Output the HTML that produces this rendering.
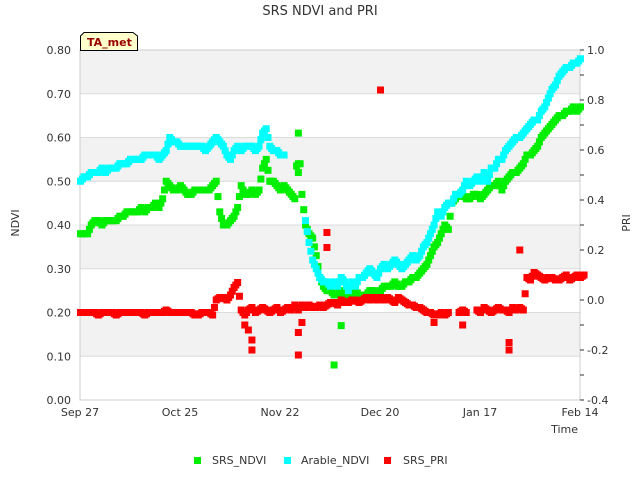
<!DOCTYPE html>
<html><head><meta charset="utf-8"><style>
body{margin:0;background:#fff;font-family:"Liberation Sans","DejaVu Sans",sans-serif}
svg text{font-family:"DejaVu Sans","Liberation Sans",sans-serif}
</style></head><body>
<svg id="c" width="640" height="480" xmlns="http://www.w3.org/2000/svg">
<rect width="640" height="480" fill="#fff"/>
<text x="320" y="15" text-anchor="middle" font-size="13" fill="#333">SRS NDVI and PRI</text>
<g id="bands"></g><g id="axes"></g><g id="marks"></g>
<text x="19" y="223" transform="rotate(-90 19 223)" text-anchor="middle" font-size="11" fill="#333">NDVI</text>
<text x="630" y="223" transform="rotate(-90 630 223)" text-anchor="middle" font-size="11" fill="#333">PRI</text>
<text x="578" y="433" text-anchor="end" font-size="11" fill="#333">Time</text>
<g><path d="M80.5,50.5 V36 L84,32.5 H133 L137.5,36 V50.5 Z" fill="#ffffcc" stroke="#000"/>
<text x="87" y="46" font-size="11" font-weight="bold" fill="#990000">TA_met</text></g>
<g>
<g><rect x="194" y="457" width="7" height="7" fill="#00ee00"/><text x="212" y="464" font-size="11" fill="#333">SRS_NDVI</text></g>
<g><rect x="284" y="457" width="7" height="7" fill="#00ffff"/><text x="301" y="464" font-size="11" fill="#333">Arable_NDVI</text></g>
<g><rect x="384" y="457" width="7" height="7" fill="#ff0000"/><text x="403" y="464" font-size="11" fill="#333">SRS_PRI</text></g>
</g>
</svg>
<script>
const xTicks=["Sep 27","Oct 25","Nov 22","Dec 20","Jan 17","Feb 14"];
const yTicks=[0,0.1,0.2,0.3,0.4,0.5,0.6,0.7,0.8];
const y2Ticks=[-0.4,-0.2,0,0.2,0.4,0.6,0.8,1.0];
const srsNdvi=[.38,.38,.38,.40,.41,.41,.40,.41,.41,.41,.41,.42,.42,.43,.43,.43,.43,.44,.43,.44,.44,.45,.44,.46,.50,.49,.48,.48,.49,.48,.47,.47,.48,.48,.48,.48,.48,.49,.50,.43,.40,.40,.41,.42,.44,.49,.47,.47,.48,.47,.48,.53,.55,.50,.50,.49,.48,.49,.48,.47,.46,.61,.47,.40,.38,.37,.33,.28,.26,.25,.25,.24,.24,.25,.24,.23,.24,.25,.24,.24,.24,.25,.25,.24,.25,.26,.26,.26,.27,.26,.26,.27,.27,.28,.28,.29,.30,.31,.33,.35,.36,.38,.40,.39,.45,.46,.47,.47,.46,.46,.47,.47,.46,.47,.48,.49,.49,.50,.48,.50,.51,.52,.52,.53,.54,.56,.56,.57,.58,.60,.61,.62,.63,.64,.65,.65,.66,.66,.67,.66,.67];
const arableNdvi=[.50,.51,.51,.52,.52,.52,.53,.52,.53,.53,.53,.54,.54,.54,.55,.55,.55,.55,.56,.56,.56,.56,.55,.56,.57,.60,.59,.59,.58,.58,.58,.58,.58,.58,.58,.57,.58,.59,.60,.59,.58,.56,.55,.57,.58,.57,.58,.58,.58,.57,.58,.61,.62,.58,.57,.57,.56,.56,null,null,null,null,null,.41,.36,.32,.30,.28,.27,.27,.26,.27,.26,.28,.27,.25,.27,.26,.28,.28,.29,.30,.29,.28,.30,.31,.30,.31,.32,.31,.30,.31,.32,.33,.32,.33,.35,.36,.38,.40,.43,.42,.44,.45,.45,.47,.47,.48,.50,.49,.50,.51,.50,.52,.50,.53,.53,.55,.55,.57,.58,.59,.60,.60,.61,.62,.63,.64,.64,.66,.67,.69,.71,.72,.74,.75,.76,.76,.77,.77,.78];
const srsPri=[-.05,-.05,-.05,-.05,-.05,-.06,-.05,-.05,-.05,-.05,-.06,-.05,-.05,-.05,-.05,-.05,-.05,-.05,-.06,-.05,-.05,-.05,-.05,-.05,-.04,-.05,-.05,-.05,-.05,-.05,-.05,-.05,-.06,-.06,-.05,-.05,-.05,-.06,0,.01,.01,0,.02,.05,.07,-.04,-.06,-.04,-.03,-.05,-.04,-.03,-.04,-.05,-.04,-.03,-.05,-.04,-.03,-.04,-.02,-.04,-.02,-.03,-.02,-.03,-.03,-.02,-.03,-.02,-.01,-.01,-.02,0,-.01,-.01,0,0,-.01,0,.01,0,.01,0,.01,0,.01,0,-.01,.01,0,-.01,-.02,-.02,-.03,-.03,-.04,-.05,-.05,-.06,-.06,-.05,-.06,-.05,null,null,-.05,-.04,-.05,null,null,-.04,-.05,-.03,-.04,-.05,-.04,-.03,-.04,-.04,-.05,-.03,-.04,-.03,-.04,.09,.08,.11,.10,.09,.08,.09,.09,.08,.08,.09,.10,.08,.09,.10,.09,.10];
const priOutlierDays=[84,123,69,69,120,120,48,48,61,61,62,107,99,46,47];
const priOutlierVals=[.84,.20,.27,.21,-.2,-.17,-.16,-.2,-.22,-.13,-.09,-.1,-.09,-.1,-.12];
const ndviOutlierDays=[61,61,71,73];
const ndviOutlierVals=[.54,.52,.08,.17];
const X0=80,X1=580,Y0=400,Y1=50,DAYS=140;
const xs=d=>X0+d*(X1-X0)/DAYS;
const ys=v=>Y0-v*(Y0-Y1)/0.8;
const ys2=v=>Y0-(v+0.4)*(Y0-Y1)/1.4;
const NS="http://www.w3.org/2000/svg";
function mk(tag,attrs,parent){const e=document.createElementNS(NS,tag);for(const k in attrs)e.setAttribute(k,attrs[k]);parent.appendChild(e);return e;}
const bands=document.getElementById('bands'),axes=document.getElementById('axes'),marks=document.getElementById('marks');
for(let i=0;i<yTicks.length-1;i++){
 if(i%2===1){const r=mk('rect',{x:X0,y:ys(yTicks[i+1]),width:X1-X0,height:ys(yTicks[i])-ys(yTicks[i+1]),fill:'#f2f2f2'},bands);
 
 }
}
yTicks.forEach(v=>{
 const l=mk('line',{x1:X0,x2:X1,y1:ys(v),y2:ys(v),stroke:'#dcdcdc'},axes);
 
 
 const t=mk('text',{x:71,y:ys(v)+4,'text-anchor':'end','font-size':'11',fill:'#333'},axes);
 t.textContent=v.toFixed(2);
 
 
});
const fr=mk('rect',{x:X0,y:Y1,width:X1-X0,height:Y0-Y1,fill:'none',stroke:'#cccccc'},axes);


xTicks.forEach((s,i)=>{
 const t=mk('text',{x:xs(i*28),y:416,'text-anchor':'middle','font-size':'11',fill:'#333'},axes);
 t.textContent=s;
 
 
});
for(let v=-0.4;v<=1.001;v+=0.1){
 const y=ys2(v);
 const l=mk('line',{x1:X1,x2:X1+4,y1:y,y2:y,stroke:'#333'},axes);
 
 
}
y2Ticks.forEach(v=>{
 const t=mk('text',{x:587,y:ys2(v)+4,'font-size':'11',fill:'#333'},axes);
 t.textContent=(Math.abs(v)<1e-9?'0.0':v.toFixed(1));
 
 
});
function pt(x,y,c,name){
 const r=mk('rect',{x:x-3,y:y-3.5,width:7,height:7,fill:c},marks);
 
 
}
function series(arr,yf,c,name){
 arr.forEach((v,d)=>{
  if(v==null)return;
  pt(xs(d),yf(v),c,name);
  const nx=arr[d+1];
  if(nx!=null&&d+1<arr.length)pt(xs(d+0.5),yf((v+nx)/2),c,name);
 });
}
series(srsNdvi,ys,'#00ee00','srs-ndvi-point');
ndviOutlierDays.forEach((d,i)=>pt(xs(d),ys(ndviOutlierVals[i]),'#00ee00','srs-ndvi-point'));
series(arableNdvi,ys,'#00ffff','arable-ndvi-point');
series(srsPri,ys2,'#ff0000','srs-pri-point');
priOutlierDays.forEach((d,i)=>pt(xs(d),ys2(priOutlierVals[i]),'#ff0000','srs-pri-point'));
</script>
</body></html>
